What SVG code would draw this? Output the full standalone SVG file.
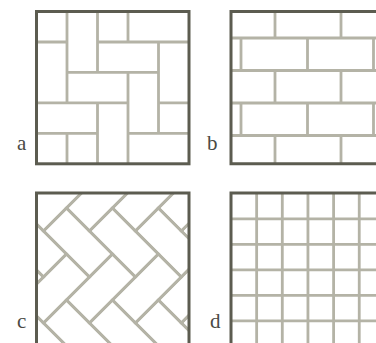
<svg xmlns="http://www.w3.org/2000/svg" xmlns:xlink="http://www.w3.org/1999/xlink" width="376" height="343" viewBox="0 0 376 343">
<style>
.t{stroke:#b4b3a6;stroke-width:2.8;fill:none;stroke-linecap:butt}
.b{stroke:#5c5c50;stroke-width:3;fill:none}
.lbl{font-family:"Liberation Serif","DejaVu Serif",serif;font-size:21px;fill:#4a4a44}
</style>
<defs>
<clipPath id="clipC"><rect x="36.5" y="193" width="152.5" height="153"/></clipPath>
<clipPath id="clipB"><rect x="231" y="11.5" width="153" height="152.3"/></clipPath>
<g id="Lu"><rect x="0" y="0" width="65" height="32.5"/><rect x="0" y="32.5" width="32.5" height="65"/></g>
<g id="strip">
<use xlink:href="#Lu" x="-260" y="-260"/><use xlink:href="#Lu" x="-227.5" y="-227.5"/><use xlink:href="#Lu" x="-195" y="-195"/><use xlink:href="#Lu" x="-162.5" y="-162.5"/><use xlink:href="#Lu" x="-130" y="-130"/><use xlink:href="#Lu" x="-97.5" y="-97.5"/><use xlink:href="#Lu" x="-65" y="-65"/><use xlink:href="#Lu" x="-32.5" y="-32.5"/><use xlink:href="#Lu" x="0" y="0"/><use xlink:href="#Lu" x="32.5" y="32.5"/><use xlink:href="#Lu" x="65" y="65"/><use xlink:href="#Lu" x="97.5" y="97.5"/><use xlink:href="#Lu" x="130" y="130"/><use xlink:href="#Lu" x="162.5" y="162.5"/><use xlink:href="#Lu" x="195" y="195"/><use xlink:href="#Lu" x="227.5" y="227.5"/><use xlink:href="#Lu" x="260" y="260"/>
</g>
</defs>
<rect width="376" height="343" fill="#ffffff"/>

<g id="panel-a">
<path class="t" d="M67 11.5V102.9M67 133.3V163.8M97.5 11.5V72.4M97.5 102.9V163.8M128 11.5V42M128 72.4V163.8M158.5 42V133.3M36.5 42H67M97.5 42H189M67 72.4H158.5M36.5 102.9H128M158.5 102.9H189M36.5 133.3H97.5M128 133.3H189"/>
<rect class="b" x="36.5" y="11.5" width="152.5" height="152.3"/>
<text class="lbl" x="17" y="150">a</text>
</g>

<g id="panel-b">
<g clip-path="url(#clipB)">
<path class="t" d="M231 38H384M231 70.5H384M231 103H384M231 135.5H384M275 11.5V38M341 11.5V38M241 38V70.5M307.5 38V70.5M373.5 38V70.5M275 70.5V103M341 70.5V103M241 103V135.5M307.5 103V135.5M373.5 103V135.5M275 135.5V163.8M341 135.5V163.8"/>
</g>
<path class="b" d="M380 11.5H231V163.8H380"/>
<text class="lbl" x="207" y="150">b</text>
</g>

<g id="panel-c">
<g clip-path="url(#clipC)">
<g class="t" transform="matrix(0.7071 0.7071 0.7071 -0.7071 43.5 231)">
<use xlink:href="#strip" x="-260" y="260"/><use xlink:href="#strip" x="-195" y="195"/><use xlink:href="#strip" x="-130" y="130"/><use xlink:href="#strip" x="-65" y="65"/><use xlink:href="#strip" x="0" y="0"/><use xlink:href="#strip" x="65" y="-65"/><use xlink:href="#strip" x="130" y="-130"/><use xlink:href="#strip" x="195" y="-195"/><use xlink:href="#strip" x="260" y="-260"/>
</g>
</g>
<path class="b" d="M36.5 346V193H189V346"/>
<text class="lbl" x="17" y="328">c</text>
</g>

<g id="panel-d">
<path class="t" d="M256.65 193V346M282.3 193V346M307.95 193V346M333.6 193V346M359.25 193V346M231 218.8H380M231 244.3H380M231 269.8H380M231 295.3H380M231 320.8H380"/>
<path class="b" d="M380 193H231V346"/>
<text class="lbl" x="210" y="328">d</text>
</g>
</svg>
